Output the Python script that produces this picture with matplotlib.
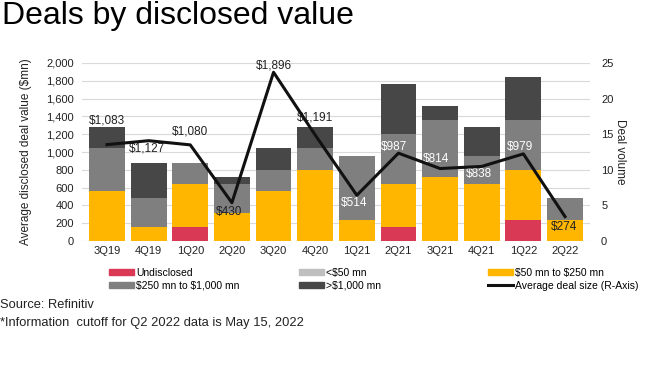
import numpy as np
from matplotlib import pyplot as plt
from matplotlib.patches import Patch
from matplotlib.lines import Line2D

plt.rcParams['font.family'] = ['Liberation Sans', 'DejaVu Sans']

quarters = ['3Q19', '4Q19', '1Q20', '2Q20', '3Q20', '4Q20',
            '1Q21', '2Q21', '3Q21', '4Q21', '1Q22', '2Q22']

# deal volume by disclosed value bucket (right axis)
undisclosed = [0, 0, 2, 0, 0, 0, 0, 2, 0, 0, 3, 0]
under_50 = [0, 0, 0, 0, 0, 0, 0, 0, 0, 0, 0, 0]
mn50_250 = [7, 2, 6, 4, 7, 10, 3, 6, 9, 8, 7, 3]
mn250_1000 = [6, 4, 3, 4, 3, 3, 9, 7, 8, 4, 7, 3]
over_1000 = [3, 5, 0, 1, 3, 3, 0, 7, 2, 4, 6, 0]

# average disclosed deal value, $mn (left axis)
avg_size = [1083, 1127, 1080, 430, 1896, 1191, 514, 987, 814, 838, 979, 274]
avg_labels = ['$1,083', '$1,127', '$1,080', '$430', '$1,896', '$1,191',
              '$514', '$987', '$814', '$838', '$979', '$274']

colors = {'undisclosed': '#D93954', 'under_50': '#BFBFBF',
          'mn50_250': '#FFB600', 'mn250_1000': '#7F7F7F', 'over_1000': '#474747'}

fig = plt.figure(figsize=(6.55, 3.68), dpi=100)
ax1 = fig.add_axes([82 / 655, 1 - 241 / 368, 508 / 655, 178 / 368])
ax2 = ax1.twinx()

x = np.arange(len(quarters))
bottom = np.zeros(len(quarters))
for vals, key in [(undisclosed, 'undisclosed'), (under_50, 'under_50'),
                  (mn50_250, 'mn50_250'), (mn250_1000, 'mn250_1000'),
                  (over_1000, 'over_1000')]:
    ax2.bar(x, vals, bottom=bottom, width=0.86, color=colors[key], zorder=2)
    bottom += np.array(vals)

ax2.set_ylim(0, 25)
ax2.set_yticks(range(0, 26, 5))
ax1.set_ylim(0, 2000)
ax1.set_yticks(range(0, 2001, 200))
ax1.set_yticklabels([f'{v:,}' for v in range(0, 2001, 200)])
ax1.set_xlim(-0.6, len(quarters) - 0.4)
ax1.set_xticks(x)
ax1.set_xticklabels(quarters)

# line on top of bars: third axes sharing the left scale
ax3 = ax1.twinx()
ax3.set_ylim(0, 2000)
ax3.axis('off')
ax3.plot(x, avg_size, color='#111111', lw=2.2, zorder=5)

# label offsets (pixels) and colours
offsets = [(0, 24), (-2, -8), (0, 13), (-3, -9), (0, 7), (0, 18),
           (-3, -8), (-4, 6), (-4, 10), (-3, -8), (-3, 7), (-1, -10)]
text_colors = ['#222222'] * 6 + ['white'] * 5 + ['#222222']
for i, (v, lab) in enumerate(zip(avg_size, avg_labels)):
    ax3.annotate(lab, (i, v), xytext=offsets[i], textcoords='offset pixels',
                 ha='center', va='center', fontsize=8.5, color=text_colors[i])

ax1.grid(axis='y', color='#D9D9D9', lw=0.8, zorder=0)
ax1.set_axisbelow(True)
ax1.set_zorder(0)
ax2.set_zorder(1)
ax3.set_zorder(2)
ax2.patch.set_visible(False)

for ax in (ax1, ax2, ax3):
    for s in ax.spines.values():
        s.set_visible(False)
ax1.tick_params(axis='both', length=0, labelsize=8, colors='#222222')
ax2.tick_params(axis='y', length=0, labelsize=8, colors='#222222', pad=8)
ax1.tick_params(axis='y', pad=6)

ax1.set_ylabel('Average disclosed deal value (\\$mn)', fontsize=8.5, color='#222222', labelpad=10)
ax2.set_ylabel('Deal volume', fontsize=8.5, color='#222222', rotation=270, labelpad=9)

fig.text(0.003, 0.997, 'Deals by disclosed value', fontsize=23, va='top', ha='left')

# legend, three columns
legend_cols = [
    [Patch(color=colors['undisclosed'], label='Undisclosed'),
     Patch(color=colors['mn250_1000'], label='\\$250 mn to \\$1,000 mn')],
    [Patch(color=colors['under_50'], label='<\\$50 mn'),
     Patch(color=colors['over_1000'], label='>\\$1,000 mn')],
    [Patch(color=colors['mn50_250'], label='\\$50 mn to \\$250 mn'),
     Line2D([], [], color='#111111', lw=2.2, label='Average deal size (R-Axis)')],
]
col_x = [109, 299, 488]
for handles, cx in zip(legend_cols, col_x):
    fig.legend(handles=handles, loc='upper left', bbox_to_anchor=(cx / 655, 1 - 268 / 368),
               frameon=False, fontsize=7.5, handlelength=2.4, handleheight=0.5,
               handletextpad=0.2, labelspacing=0.25, borderpad=0, borderaxespad=0)

fig.text(0.0, 1 - 305 / 368, 'Source: Refinitiv', fontsize=9.3, va='center', ha='left', color='#222222')
fig.text(0.0, 1 - 323 / 368, '*Information  cutoff for Q2 2022 data is May 15, 2022',
         fontsize=9.3, va='center', ha='left', color='#222222')

fig.savefig('out.png', dpi=100)
